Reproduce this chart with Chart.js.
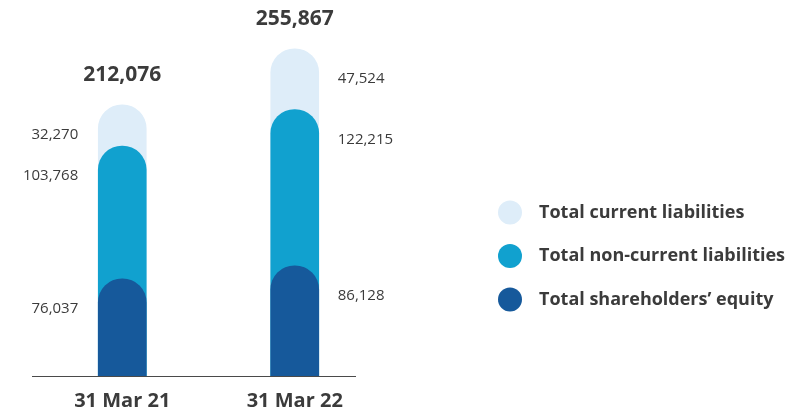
<!DOCTYPE html>
<html>
<head>
<meta charset="utf-8">
<script src="https://cdn.jsdelivr.net/npm/chart.js@4.4.1/dist/chart.umd.min.js"></script>
<style>
    html, body { margin: 0; padding: 0; background: #fff; }
    #wrap { width: 796px; height: 409px; position: relative; }
</style>
</head>
<body>
<div id="wrap"><canvas id="balanceChart"></canvas></div>
<script>
// Balance sheet composition, in thousands
const periods = ['31 Mar 21', '31 Mar 22'];
const equity = [76037, 86128];
const nonCurrentLiabilities = [103768, 122215];
const currentLiabilities = [32270, 47524];
const totals = [212076, 255867];

const FONT = "'Open Sans', 'Noto Sans', sans-serif";
const TEXT = '#3b3b3b';

// each bar is drawn from zero up to its running total, so the rounded cap
// of a lower segment sits over the segment above it
function runningTotal(...parts) {
    return periods.map((_, i) => parts.reduce((sum, p) => sum + p[i], 0));
}

const fmt = v => v.toLocaleString('en-US');

const segmentLabels = {
    id: 'segmentLabels',
    afterDatasetsDraw(chart) {
        const ctx = chart.ctx;
        const y0 = chart.scales.y.getPixelForValue(0);

        ctx.save();
        // baseline
        ctx.strokeStyle = '#4a4a4a';
        ctx.lineWidth = 1;
        ctx.beginPath();
        ctx.moveTo(32, Math.round(y0) + 0.5);
        ctx.lineTo(356, Math.round(y0) + 0.5);
        ctx.stroke();

        // segment values: left of the first bar, right of the second
        ctx.font = '15px ' + FONT;
        ctx.fillStyle = TEXT;
        ctx.textBaseline = 'middle';
        chart.data.datasets.forEach((ds, d) => {
            chart.getDatasetMeta(d).data.forEach((bar, i) => {
                const half = bar.width / 2;
                const y = bar.y + 30;
                if (i === 0) {
                    ctx.textAlign = 'right';
                    ctx.fillText(fmt(ds.segment[i]), bar.x - half - 20, y);
                } else {
                    ctx.textAlign = 'left';
                    ctx.fillText(fmt(ds.segment[i]), bar.x + half + 19, y);
                }
            });
        });

        // totals above each column
        const last = chart.data.datasets.length - 1;
        ctx.font = 'bold 21px ' + FONT;
        ctx.textAlign = 'center';
        chart.getDatasetMeta(last).data.forEach((bar, i) => {
            ctx.fillText(fmt(chart.data.datasets[last].data[i]), bar.x, bar.y - 30);
        });

        // legend, top series first
        ctx.font = 'bold 18px ' + FONT;
        ctx.textAlign = 'left';
        chart.data.datasets.slice().reverse().forEach((ds, k) => {
            const y = 212.5 + k * 43.5;
            ctx.fillStyle = ds.backgroundColor;
            ctx.beginPath();
            ctx.arc(510, y, 12, 0, Math.PI * 2);
            ctx.fill();
            ctx.fillStyle = TEXT;
            ctx.fillText(ds.label, 539, y);
        });
        ctx.restore();
    }
};

new Chart(document.getElementById('balanceChart'), {
    type: 'bar',
    data: {
        labels: periods,
        datasets: [
            {
                label: 'Total shareholders’ equity',
                data: runningTotal(equity),
                segment: equity,
                backgroundColor: '#16599b'
            },
            {
                label: 'Total non-current liabilities',
                data: runningTotal(equity, nonCurrentLiabilities),
                segment: nonCurrentLiabilities,
                backgroundColor: '#11a1cf'
            },
            {
                label: 'Total current liabilities',
                data: totals,
                segment: currentLiabilities,
                backgroundColor: '#deedf9'
            }
        ]
    },
    options: {
        responsive: true,
        maintainAspectRatio: false,
        animation: false,
        datasets: {
            bar: {
                grouped: false,
                barThickness: 48,
                borderRadius: 24,
                borderSkipped: 'start'
            }
        },
        layout: { padding: { left: 36, right: 415, top: 0, bottom: -17 } },
        plugins: {
            legend: { display: false },
            tooltip: { enabled: false }
        },
        scales: {
            x: {
                grid: { display: false, drawTicks: false },
                border: { display: false },
                ticks: {
                    padding: 15,
                    color: TEXT,
                    font: { family: FONT, size: 20, weight: 'bold', lineHeight: 1 }
                }
            },
            y: {
                display: false,
                min: 0,
                max: 294000
            }
        }
    },
    plugins: [segmentLabels]
});
</script>
</body>
</html>
